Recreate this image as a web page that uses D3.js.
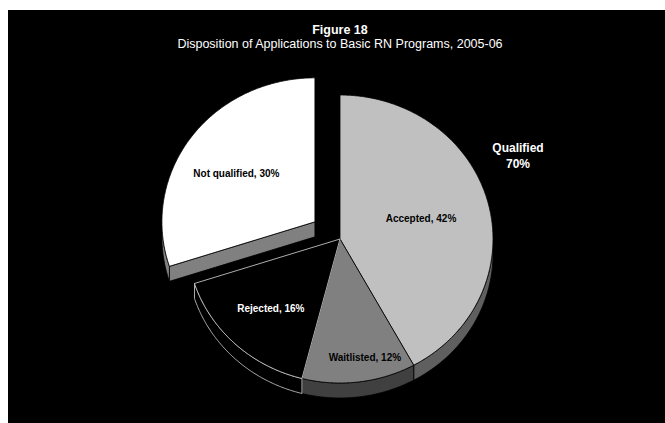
<!DOCTYPE html>
<html>
<head>
<meta charset="utf-8">
<script src="https://cdn.jsdelivr.net/npm/d3@7"></script>
<style>
  html, body { margin: 0; padding: 0; background: #ffffff; }
  svg { display: block; }
  text { font-family: "Liberation Sans", Arial, sans-serif; }
</style>
</head>
<body>
<script>
// Chart data
const title = "Figure 18";
const subtitle = "Disposition of Applications to Basic RN Programs, 2005-06";
const categories = ["Accepted", "Waitlisted", "Rejected", "Not qualified"];
const values = [42, 12, 16, 30];
const groupName = "Qualified";
const groupMembers = ["Accepted", "Waitlisted", "Rejected"];

// Styling
const W = 665, H = 423;
const topColor = d3.scaleOrdinal().domain(categories).range(["#c0c0c0", "#808080", "#000000", "#ffffff"]);
const sideColor = d3.scaleOrdinal().domain(categories).range(["#5f5f5f", "#404040", "#000000", "#808080"]);
const edgeColor = d3.scaleOrdinal().domain(categories).range(["#000000", "#000000", "#d8d8d8", "#000000"]);
const textColor = d3.scaleOrdinal().domain(categories).range(["#000000", "#000000", "#ffffff", "#000000"]);
const labelRadius = d3.scaleOrdinal().domain(categories).range([0.56, 0.83, 0.66, 0.57]);
const labelNudgeX = d3.scaleOrdinal().domain(categories).range([-2, 9, 0, -8]);
const exploded = new Set(["Not qualified"]);

const cx = 340, cy = 239;   // pie centre
const rx = 153, ry = 144;   // projected radii
const depth = 15;           // thickness of the disc
const explodeDist = 31;

const svg = d3.select("body").append("svg").attr("width", W).attr("height", H);
svg.append("rect").attr("x", 8).attr("y", 10).attr("width", W - 8).attr("height", H - 10).attr("fill", "#000");

svg.append("text").attr("x", 340).attr("y", 34).attr("text-anchor", "middle")
  .attr("fill", "#fff").attr("font-size", 12.5).attr("font-weight", "bold").text(title);
svg.append("text").attr("x", 340).attr("y", 48).attr("text-anchor", "middle")
  .attr("fill", "#fff").attr("font-size", 12.5).text(subtitle);

const pie = d3.pie().sort(null).value(d => d.value);
const arcs = pie(categories.map((c, i) => ({ name: c, value: values[i] })));

function offsetOf(a) {
  if (!exploded.has(a.data.name)) return [0, 0];
  const m = (a.startAngle + a.endAngle) / 2;
  return [explodeDist * Math.sin(m), -explodeDist * Math.cos(m) * ry / rx];
}
function pt(ox, oy, ang, dz = 0) {
  return [cx + ox + rx * Math.sin(ang), cy + oy - ry * Math.cos(ang) + dz];
}
function arcPts(ox, oy, a0, a1, dz = 0) {
  const n = Math.max(2, Math.ceil(Math.abs(a1 - a0) / (Math.PI / 360)));
  return d3.range(n + 1).map(i => pt(ox, oy, a0 + (a1 - a0) * i / n, dz));
}
const line = d3.line().curve(d3.curveLinear);

function drawSlice(a) {
  const [ox, oy] = offsetOf(a);
  const name = a.data.name;
  const g = svg.append("g");
  const stroke = edgeColor(name);
  // radial face at the start edge, visible when it faces the viewer
  const sNorm = a.startAngle - Math.PI / 2;
  if (Math.cos(sNorm) < 0 && ox !== 0) {
    const p = pt(ox, oy, a.startAngle);
    const c0 = [cx + ox, cy + oy];
    g.append("path")
      .attr("d", line([c0, p, [p[0], p[1] + depth], [c0[0], c0[1] + depth]]) + "Z")
      .attr("fill", sideColor(name)).attr("stroke", stroke).attr("stroke-width", 0.8)
      .attr("stroke-linejoin", "round");
  }
  // curved outer side, front half only
  const s = Math.max(a.startAngle, Math.PI / 2), e = Math.min(a.endAngle, 3 * Math.PI / 2);
  if (e > s) {
    const top = arcPts(ox, oy, s, e);
    const bot = arcPts(ox, oy, e, s, depth);
    g.append("path").attr("d", line(top.concat(bot)) + "Z")
      .attr("fill", sideColor(name)).attr("stroke", stroke).attr("stroke-width", 0.8)
      .attr("stroke-linejoin", "round");
  }
  // top face
  const c0 = [cx + ox, cy + oy];
  g.append("path").attr("d", line([c0].concat(arcPts(ox, oy, a.startAngle, a.endAngle))) + "Z")
    .attr("fill", topColor(name)).attr("stroke", stroke).attr("stroke-width", 0.8)
    .attr("stroke-linejoin", "round");
}

// back (exploded) slice first, then the rest
arcs.filter(a => exploded.has(a.data.name)).forEach(drawSlice);
arcs.filter(a => !exploded.has(a.data.name)).forEach(drawSlice);

// slice labels
arcs.forEach(a => {
  const [ox, oy] = offsetOf(a);
  const m = (a.startAngle + a.endAngle) / 2;
  const k = labelRadius(a.data.name);
  svg.append("text")
    .attr("x", cx + ox + k * rx * Math.sin(m) + labelNudgeX(a.data.name))
    .attr("y", cy + oy - k * ry * Math.cos(m))
    .attr("dy", "0.35em").attr("text-anchor", "middle")
    .attr("font-size", 10).attr("font-weight", "bold")
    .attr("fill", textColor(a.data.name))
    .text(`${a.data.name}, ${a.data.value}%`);
});

// group label for the qualified applicants
const groupTotal = d3.sum(arcs.filter(a => groupMembers.includes(a.data.name)), a => a.data.value);
const gl = svg.append("text").attr("text-anchor", "middle").attr("fill", "#fff")
  .attr("font-size", 12).attr("font-weight", "bold");
gl.append("tspan").attr("x", cx + 178).attr("y", cy - 87).text(groupName);
gl.append("tspan").attr("x", cx + 178).attr("y", cy - 71).text(`${groupTotal}%`);
</script>
</body>
</html>
